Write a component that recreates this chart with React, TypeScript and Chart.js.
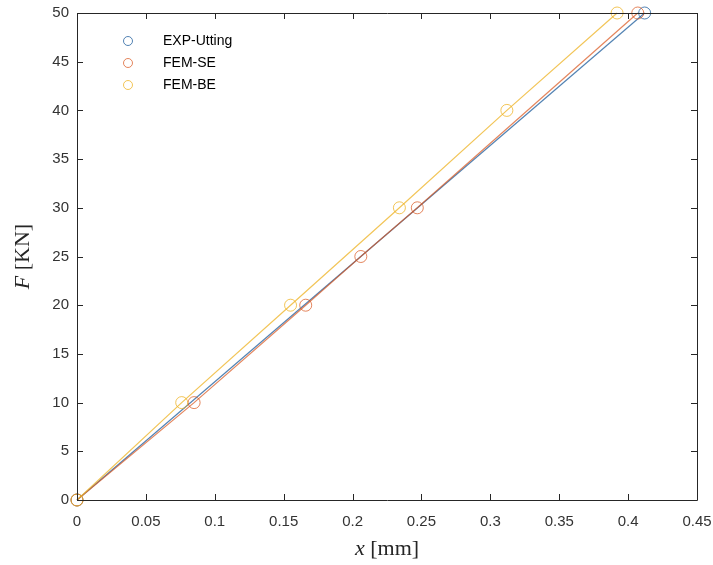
import React, { useEffect, useRef } from "react";
import { Chart, registerables } from "chart.js";

Chart.register(...registerables);

const EXP_X = [0, 0.412];
const EXP_F = [0, 50];
const SE_X = [0, 0.085, 0.166, 0.206, 0.247, 0.407];
const SE_F = [0, 10, 20, 25, 30, 50];
const BE_X = [0, 0.076, 0.155, 0.234, 0.312, 0.392];
const BE_F = [0, 10, 20, 30, 40, 50];
const X_TICKS = [0, 0.05, 0.1, 0.15, 0.2, 0.25, 0.3, 0.35, 0.4, 0.45];
const X_TICK_LABELS = ["0", "0.05", "0.1", "0.15", "0.2", "0.25", "0.3", "0.35", "0.4", "0.45"];
const Y_TICKS = [0, 5, 10, 15, 20, 25, 30, 35, 40, 45, 50];
const SERIES_NAMES = ["EXP-Utting", "FEM-SE", "FEM-BE"];
const COLORS = ["rgba(40,100,160,0.8)", "rgba(217,83,25,0.7)", "rgba(237,177,32,0.75)"];

const toPts = (xs: number[], ys: number[]) => xs.map((x, i) => ({ x, y: ys[i] }));

const W = 713;
const H = 565;
const LEFT = 77;
const RIGHT = 697;
const TOP = 13;
const BOTTOM = 500;

const framePlugin = {
  id: "frame",
  afterDraw(chart: any) {
    const ctx = chart.ctx;
    const xs = chart.scales.x;
    const ys = chart.scales.y;
    const l = xs.left, r = xs.right, t = ys.top, b = ys.bottom;
    ctx.save();
    ctx.strokeStyle = "#262626";
    ctx.lineWidth = 1;
    ctx.beginPath();
    ctx.rect(Math.round(l) + 0.5, Math.round(t) + 0.5, Math.round(r - l), Math.round(b - t));
    ctx.stroke();
    const tl = 6;
    ctx.beginPath();
    X_TICKS.forEach((v) => {
      const px = Math.round(xs.getPixelForValue(v)) + 0.5;
      ctx.moveTo(px, b);
      ctx.lineTo(px, b - tl);
      ctx.moveTo(px, t);
      ctx.lineTo(px, t + tl);
    });
    Y_TICKS.forEach((v) => {
      const py = Math.round(ys.getPixelForValue(v)) + 0.5;
      ctx.moveTo(l, py);
      ctx.lineTo(l + tl, py);
      ctx.moveTo(r, py);
      ctx.lineTo(r - tl, py);
    });
    ctx.stroke();

    // legend
    const lx = l + 51;
    const ly = t + 28;
    ctx.font = "14px 'Liberation Sans', Arial, sans-serif";
    ctx.textBaseline = "middle";
    ctx.textAlign = "left";
    SERIES_NAMES.forEach((name, i) => {
      const y = ly + i * 22;
      ctx.strokeStyle = COLORS[i];
      ctx.lineWidth = 1;
      ctx.beginPath();
      ctx.arc(lx, y, 4.5, 0, Math.PI * 2);
      ctx.stroke();
      ctx.fillStyle = "#000";
      ctx.fillText(name, lx + 35, y);
    });

    // axis titles
    ctx.fillStyle = "#262626";
    ctx.textBaseline = "alphabetic";
    const serif = "'Liberation Serif', 'DejaVu Serif', serif";
    const xi = "italic 22px " + serif;
    const xn = "22px " + serif;
    ctx.font = xi;
    const w1 = ctx.measureText("x").width;
    ctx.font = xn;
    const w2 = ctx.measureText(" [mm]").width;
    const cx = (l + r) / 2;
    const sx = cx - (w1 + w2) / 2;
    const by = 555;
    ctx.font = xi;
    ctx.fillText("x", sx, by);
    ctx.font = xn;
    ctx.fillText(" [mm]", sx + w1, by);

    ctx.save();
    ctx.translate(29, (t + b) / 2);
    ctx.rotate(-Math.PI / 2);
    ctx.font = xi;
    const f1 = ctx.measureText("F").width;
    ctx.font = xn;
    const f2 = ctx.measureText(" [KN]").width;
    const fx = -(f1 + f2) / 2;
    ctx.font = xi;
    ctx.fillText("F", fx, 0);
    ctx.font = xn;
    ctx.fillText(" [KN]", fx + f1, 0);
    ctx.restore();
    ctx.restore();
  },
};

export default function App() {
  const ref = useRef<HTMLCanvasElement | null>(null);
  useEffect(() => {
    if (!ref.current) return;
    const mk = (i: number, xs: number[], ys: number[], order: number) => ({
      label: SERIES_NAMES[i],
      data: toPts(xs, ys),
      showLine: true,
      borderColor: COLORS[i],
      backgroundColor: "rgba(0,0,0,0)",
      borderWidth: 1.2,
      pointRadius: 6,
      pointBorderWidth: 1,
      pointBorderColor: COLORS[i],
      pointBackgroundColor: "rgba(0,0,0,0)",
      clip: false,
      order,
    });
    const chart = new Chart(ref.current, {
      type: "scatter",
      data: {
        datasets: [
          mk(0, EXP_X, EXP_F, 3),
          mk(1, SE_X, SE_F, 2),
          mk(2, BE_X, BE_F, 1),
        ],
      },
      plugins: [framePlugin],
      options: {
        animation: false,
        responsive: false,
        maintainAspectRatio: false,
        layout: { padding: { top: TOP, right: W - RIGHT, left: 0, bottom: 0 } },
        plugins: { legend: { display: false }, tooltip: { enabled: false } },
        scales: {
          x: {
            type: "linear",
            min: 0,
            max: 0.45,
            afterBuildTicks: (s: any) => {
              s.ticks = X_TICKS.map((v) => ({ value: v }));
            },
            afterFit: (s: any) => {
              s.height = H - BOTTOM;
              s.paddingLeft = 0;
              s.paddingRight = 0;
            },
            grid: { display: false, drawTicks: false },
            border: { display: false },
            ticks: {
              padding: 13,
              color: "#333",
              font: { family: "'Liberation Sans', Arial, sans-serif", size: 15 },
              callback: (v: any) => {
                const i = X_TICKS.findIndex((t) => Math.abs(t - Number(v)) < 1e-9);
                return i >= 0 ? X_TICK_LABELS[i] : "";
              },
              maxRotation: 0,
              autoSkip: false,
            },
          },
          y: {
            type: "linear",
            min: 0,
            max: 50,
            afterBuildTicks: (s: any) => {
              s.ticks = Y_TICKS.map((v) => ({ value: v }));
            },
            afterFit: (s: any) => {
              s.width = LEFT;
              s.paddingTop = 0;
              s.paddingBottom = 0;
            },
            grid: { display: false, drawTicks: false },
            border: { display: false },
            ticks: {
              padding: 8,
              color: "#333",
              font: { family: "'Liberation Sans', Arial, sans-serif", size: 15 },
              autoSkip: false,
            },
          },
        },
      },
    } as any);
    return () => chart.destroy();
  }, []);
  return (
    <div style={{ position: "absolute", left: 0, top: 0, width: W, height: H, background: "#fff" }}>
      <canvas ref={ref} width={W} height={H} style={{ width: W, height: H }} />
    </div>
  );
}
